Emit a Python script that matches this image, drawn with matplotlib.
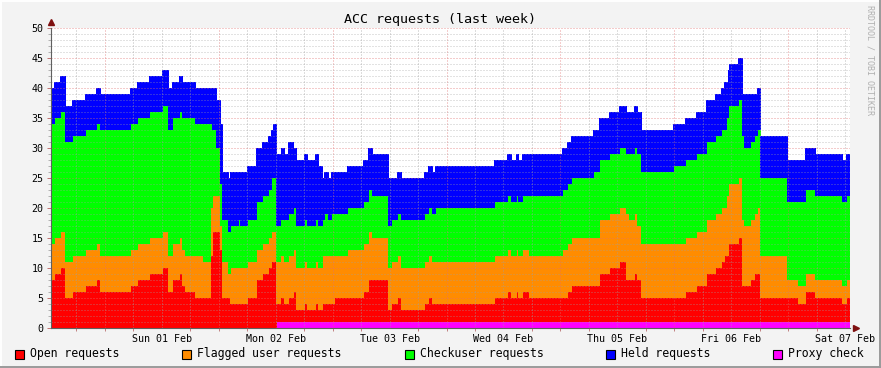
import numpy as np
import matplotlib
matplotlib.use("Agg")
import matplotlib.pyplot as plt
from matplotlib.patches import Rectangle
from matplotlib.lines import Line2D

# ---------------- data ----------------
# RRD samples: one consolidated sample every 24/114 h (~12.6 min),
# first sample at Sat 31 Jan ~12:38 (hour -11.37 relative to Sun 01 Feb 00:00)
step_hours = 24 / 114
start_hour = -54 * step_hours
n_samples = 800

# sample index at which each constant segment begins
seg_start = [0, 4, 10, 15, 22, 35, 46, 50, 80, 87,
             99, 112, 118, 122, 129, 132, 135, 145, 153, 160,
             162, 166, 170, 172, 178, 180, 188, 190, 197, 206,
             212, 218, 221, 223, 226, 230, 231, 234, 238, 243,
             246, 254, 257, 265, 268, 272, 274, 278, 281, 284,
             297, 313, 318, 322, 338, 341, 347, 351, 374, 378,
             382, 385, 444, 457, 461, 466, 468, 472, 479, 512,
             517, 521, 543, 549, 559, 569, 576, 579, 584, 587,
             591, 623, 635, 646, 656, 665, 671, 674, 676, 678,
             679, 688, 692, 694, 700, 704, 707, 710, 737, 748,
             755, 765, 792, 796]

open_requests = [8, 9, 10, 5, 6, 7, 8, 6, 7, 8,
                 9, 10, 6, 8, 9, 7, 6, 5, 5, 12,
                 16, 16, 13, 5, 5, 4, 4, 4, 5, 8,
                 9, 10, 11, 11, 3, 4, 4, 3, 4, 5,
                 2, 3, 2, 3, 2, 3, 3, 3, 3, 4,
                 4, 5, 7, 7, 2, 3, 4, 2, 3, 4,
                 3, 3, 4, 5, 4, 5, 4, 5, 4, 4,
                 5, 6, 6, 8, 9, 10, 7, 7, 8, 7,
                 4, 4, 5, 6, 8, 9, 10, 11, 11, 13,
                 13, 14, 6, 6, 7, 8, 8, 4, 4, 3,
                 5, 4, 3, 4]

flagged_requests = [6, 6, 6, 6, 6, 6, 6, 6, 6, 6,
                    6, 6, 6, 6, 6, 6, 6, 7, 6, 8,
                    6, 6, 4, 6, 4, 6, 6, 6, 6, 5,
                    5, 5, 5, 5, 7, 7, 7, 7, 7, 7,
                    7, 7, 7, 7, 7, 8, 8, 8, 8, 7,
                    8, 8, 8, 7, 7, 7, 7, 7, 7, 7,
                    7, 7, 7, 7, 7, 7, 7, 7, 7, 8,
                    8, 8, 8, 9, 9, 9, 11, 10, 10, 9,
                    9, 9, 9, 9, 9, 9, 9, 8, 10, 10,
                    10, 10, 11, 10, 10, 10, 11, 7, 3, 3,
                    3, 3, 3, 3]

checkuser_requests = [20, 20, 20, 20, 20, 20, 20, 21, 21, 21,
                      21, 21, 21, 21, 21, 22, 23, 22, 23, 14,
                      11, 8, 7, 7, 7, 7, 8, 7, 7, 8,
                      8, 8, 9, 9, 6, 6, 6, 7, 7, 7,
                      7, 7, 7, 7, 7, 6, 7, 6, 7, 7,
                      7, 7, 7, 7, 7, 7, 7, 8, 8, 8,
                      8, 9, 9, 9, 9, 9, 9, 9, 10, 10,
                      10, 10, 11, 10, 10, 10, 10, 11, 11, 12,
                      12, 13, 13, 13, 13, 13, 13, 13, 13, 13,
                      13, 13, 14, 13, 13, 13, 13, 13, 13, 14,
                      14, 14, 14, 14]

held_requests = [6, 6, 6, 6, 6, 6, 6, 6, 6, 6,
                 6, 6, 7, 6, 6, 6, 6, 6, 6, 6,
                 7, 8, 10, 8, 9, 9, 8, 9, 9, 9,
                 9, 9, 8, 9, 12, 11, 12, 11, 12, 10,
                 11, 11, 11, 11, 10, 7, 7, 7, 7, 7,
                 7, 7, 7, 7, 8, 7, 7, 7, 7, 7,
                 7, 7, 7, 7, 7, 7, 7, 7, 7, 7,
                 7, 7, 7, 7, 7, 7, 7, 7, 7, 7,
                 7, 7, 7, 7, 7, 7, 7, 8, 6, 6,
                 7, 7, 7, 9, 8, 7, 7, 7, 7, 7,
                 7, 7, 7, 7]

proxy_check = [0] * 34 + [1] * 70

day_labels = ["Sun 01 Feb", "Mon 02 Feb", "Tue 03 Feb", "Wed 04 Feb",
              "Thu 05 Feb", "Fri 06 Feb", "Sat 07 Feb"]

legend_labels = ["Open requests", "Flagged user requests", "Checkuser requests",
                 "Held requests", "Proxy check"]
colors = {"open": "#FF0000", "flag": "#FF8C00", "check": "#00FF00",
          "held": "#0000FF", "proxy": "#FF00FF"}

# ---------------- build step series ----------------
idx = np.arange(n_samples + 1)
seg = np.searchsorted(seg_start, idx, side="right") - 1
x = start_hour + idx * step_hours

def expand(v):
    return np.asarray(v, dtype=float)[seg]

s_proxy = expand(proxy_check)
s_open = expand(open_requests)
s_flag = expand(flagged_requests)
s_check = expand(checkuser_requests)
s_held = expand(held_requests)

mono = "DejaVu Sans Mono"
W, H = 881, 368
fig = plt.figure(figsize=(W / 100, H / 100), dpi=100, facecolor="#F3F3F3")
ax = fig.add_axes([51 / W, 40 / H, 799 / W, 300 / H])
ax.set_facecolor("white")

ax.stackplot(x, s_proxy, s_open, s_flag, s_check, s_held,
             colors=[colors["proxy"], colors["open"], colors["flag"],
                     colors["check"], colors["held"]],
             step="post", linewidth=0, antialiased=False, zorder=1)

ax.set_xlim(x[0], x[-1])
ax.set_ylim(0, 50)

# grid (drawn above areas, like rrdtool)
dot = (0, (1, 2))
for h in np.arange(-6, 168, 6):
    if x[0] < h < x[-1]:
        if h % 24 == 0:
            ax.axvline(h, color="#E07070", lw=0.72, ls=dot, alpha=0.7, zorder=3)
        else:
            ax.axvline(h, color="#A0A0A0", lw=0.72, ls=dot, alpha=0.7, zorder=3)
for v in range(1, 51):
    if v % 5 == 0:
        ax.axhline(v, color="#E07070", lw=0.72, ls=dot, alpha=0.7, zorder=3)
    else:
        ax.axhline(v, color="#A0A0A0", lw=0.72, ls=dot, alpha=0.6, zorder=3)

# ticks
ax.set_yticks(range(0, 51, 5))
ax.set_yticklabels([str(v) for v in range(0, 51, 5)], fontfamily=mono, fontsize=7.2)
ax.set_yticks(range(0, 51), minor=True)
ax.tick_params(axis="y", which="major", length=3, width=0.7, color="#C07070",
               pad=2.5, labelcolor="#000000")
ax.tick_params(axis="y", which="minor", length=2, width=0.7, color="#B0B0B0")

noon = [12 + 24 * k for k in range(len(day_labels))]
ax.set_xticks(noon)
ax.set_xticklabels(day_labels, fontfamily=mono, fontsize=7.2)
ax.set_xticks([h for h in np.arange(-6, 168, 6) if x[0] < h < x[-1]], minor=True)
ax.tick_params(axis="x", which="major", length=0, pad=4)
ax.tick_params(axis="x", which="minor", length=2.5, width=0.7, color="#C08080")

for side in ("top", "right"):
    ax.spines[side].set_visible(False)
for side in ("left", "bottom"):
    ax.spines[side].set_color("#606060")
    ax.spines[side].set_linewidth(0.8)
    ax.spines[side].set_zorder(4)

# axis arrows
ax.plot([0], [1.02], marker="^", color="#7F1010", markersize=4,
        transform=ax.transAxes, clip_on=False, zorder=5)
ax.plot([1.007], [0], marker=">", color="#7F1010", markersize=4,
        transform=ax.transAxes, clip_on=False, zorder=5)

# title & watermark
fig.text(440 / W, 1 - 19 / H, "ACC requests (last week)", ha="center", va="center",
         fontfamily=mono, fontsize=9.6)
fig.text(870 / W, 1 - 60 / H, "RRDTOOL / TOBI OETIKER", rotation=270,
         ha="center", va="center", fontfamily=mono, fontsize=6, color="#B0B0B0")

# legend
leg_x = [15, 182, 405, 606, 773]
leg_c = [colors["open"], colors["flag"], colors["check"], colors["held"], colors["proxy"]]
for lx, lc, lt in zip(leg_x, leg_c, legend_labels):
    fig.add_artist(Rectangle((lx / W, (H - 359) / H), 9 / W, 9 / H,
                             transform=fig.transFigure, facecolor=lc,
                             edgecolor="black", linewidth=0.8))
    fig.text((lx + 15) / W, 1 - 354 / H, lt, ha="left", va="center",
             fontfamily=mono, fontsize=8.3)

# 3D frame
fig.add_artist(Line2D([0, 1], [1 - 0.5 / H, 1 - 0.5 / H], transform=fig.transFigure,
                      color="#FFFFFF", lw=1.4))
fig.add_artist(Line2D([0.5 / W, 0.5 / W], [0, 1], transform=fig.transFigure,
                      color="#FFFFFF", lw=1.4))
fig.add_artist(Line2D([0, 1], [1 / H, 1 / H], transform=fig.transFigure,
                      color="#9A9A9A", lw=1.4))
fig.add_artist(Line2D([1 - 1 / W, 1 - 1 / W], [0, 1], transform=fig.transFigure,
                      color="#9A9A9A", lw=1.4))

fig.savefig("out.png", dpi=100, facecolor=fig.get_facecolor())
